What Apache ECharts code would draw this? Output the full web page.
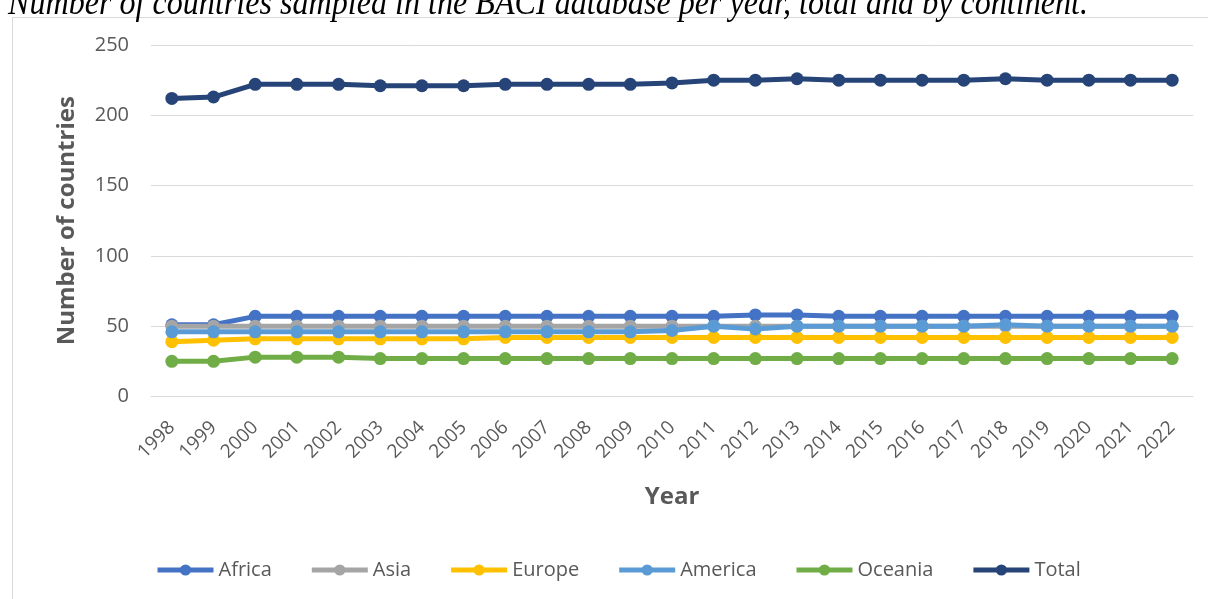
<!DOCTYPE html>
<html>
<head>
<meta charset="utf-8">
<script src="https://cdn.jsdelivr.net/npm/echarts@6/dist/echarts.min.js"></script>
<style>
html,body{margin:0;padding:0;background:#fff;}
#chart{width:1208px;height:599px;}
</style>
</head>
<body>
<div id="chart"></div>
<script>
const titleText = "Number of countries sampled in the BACI database per year, total and by continent.";
const years = ["1998","1999","2000","2001","2002","2003","2004","2005","2006","2007","2008","2009","2010","2011","2012","2013","2014","2015","2016","2017","2018","2019","2020","2021","2022"];
const africa  = [51,51,57,57,57,57,57,57,57,57,57,57,57,57,58,58,57,57,57,57,57,57,57,57,57];
const asia    = [50,50,50,50,50,50,50,50,50,50,50,50,50,50,50,50,50,50,50,50,50,50,50,50,50];
const europe  = [39,40,41,41,41,41,41,41,42,42,42,42,42,42,42,42,42,42,42,42,42,42,42,42,42];
const america = [46,46,46,46,46,46,46,46,46,46,46,46,47,50,48,50,50,50,50,50,51,50,50,50,50];
const oceania = [25,25,28,28,28,27,27,27,27,27,27,27,27,27,27,27,27,27,27,27,27,27,27,27,27];
const total   = [212,213,222,222,222,221,221,221,222,222,222,222,223,225,225,226,225,225,225,225,226,225,225,225,225];
const yTicks  = [0,50,100,150,200,250];

const seriesDefs = [
  {name:"Africa", data:africa, color:"#4472C4"},
  {name:"Asia", data:asia, color:"#A5A5A5"},
  {name:"Europe", data:europe, color:"#FFC000"},
  {name:"America", data:america, color:"#5B9BD5"},
  {name:"Oceania", data:oceania, color:"#70AD47"},
  {name:"Total", data:total, color:"#264478"}
];

// measure title to fit width
const cv = document.createElement('canvas').getContext('2d');
const titleFont = 'italic 36px "Liberation Serif"';
cv.font = titleFont;
const tw = cv.measureText(titleText).width;
const titleScaleX = 1080 / tw;

const chart = echarts.init(document.getElementById('chart'), null, {renderer:'canvas'});
const FONT = '"Open Sans", sans-serif';
const option = {
  backgroundColor:'#fff',
  animation:false,
  graphic:[
    {type:'rect', shape:{x:12.5,y:17.5,width:1400,height:800}, style:{fill:'none', stroke:'#D9D9D9', lineWidth:1}, z:-1},
    {type:'text', x:8, y:-13, scaleX:titleScaleX, style:{text:titleText, font:titleFont, fill:'#000', verticalAlign:'top'}}
  ],
  grid:{left:151, right:15, top:45, bottom:202.5, containLabel:false},
  legend:{
    left:155, top:560, padding:0, itemGap:37.5, itemWidth:56, itemHeight:14,
    lineStyle:{width:5},
    textStyle:{fontFamily:FONT, fontSize:20, color:'#595959'},
    data:seriesDefs.map(s=>s.name)
  },
  xAxis:{
    type:'category', data:years, boundaryGap:true,
    name:'Year', nameLocation:'middle', nameGap:89,
    nameTextStyle:{fontFamily:FONT, fontSize:24, fontWeight:'bold', color:'#595959'},
    axisLine:{show:true, lineStyle:{color:'#D9D9D9', width:1}},
    axisTick:{show:false},
    axisLabel:{rotate:45, margin:28, fontFamily:FONT, fontSize:19, color:'#595959', interval:0}
  },
  yAxis:{
    type:'value', min:yTicks[0], max:yTicks[yTicks.length-1], interval:50,
    name:'Number of countries', nameLocation:'middle', nameRotate:90, nameGap:72,
    nameTextStyle:{fontFamily:FONT, fontSize:24, fontWeight:'bold', color:'#595959'},
    axisLine:{show:false}, axisTick:{show:false},
    axisLabel:{margin:22, fontFamily:FONT, fontSize:20, color:'#595959'},
    splitLine:{lineStyle:{color:'#D9D9D9', width:1}}
  },
  series:seriesDefs.map(s=>({
    name:s.name, type:'line', data:s.data,
    symbol:'circle', symbolSize:13, showSymbol:true,
    lineStyle:{width:5, color:s.color},
    itemStyle:{color:s.color},
    color:s.color
  }))
};
chart.setOption(option);
</script>
</body>
</html>
